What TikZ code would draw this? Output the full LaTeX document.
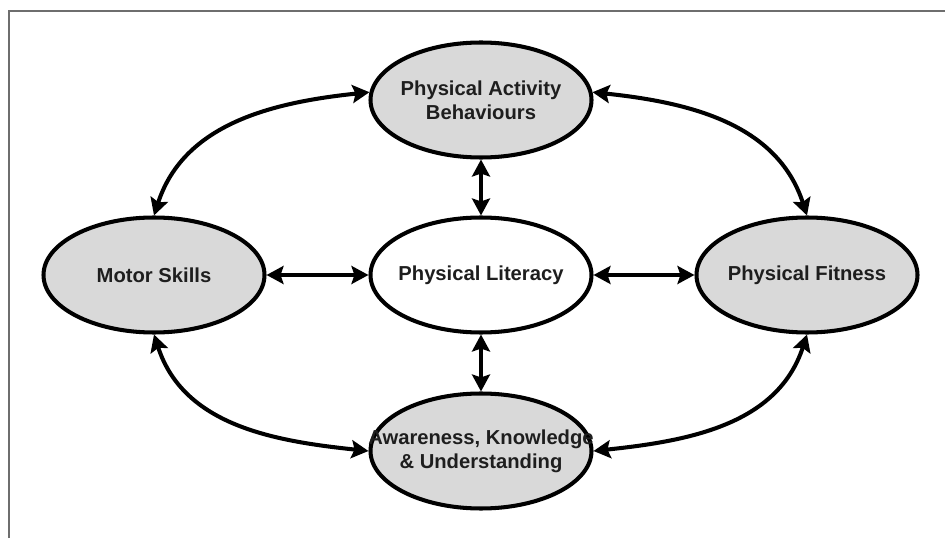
\documentclass[tikz,border=0pt]{standalone}
\usepackage{fontspec}
\setmainfont{Liberation Sans}
\usepackage{xcolor}
\usetikzlibrary{shapes.geometric}
\usetikzlibrary{arrows.meta}

\definecolor{ringfill}{RGB}{217,217,217}
\definecolor{framegray}{RGB}{110,110,110}
\definecolor{inkdark}{RGB}{30,30,30}

\tikzset{
  ring/.style={ellipse,draw,line width=2.3pt,fill=ringfill,
    minimum width=4.42cm,minimum height=2.3cm,inner sep=0pt},
  core/.style={ring,fill=white},
  txt/.style={align=center,text=inkdark,
    font=\fontsize{11.5}{13.8}\selectfont\bfseries},
  link/.style={line width=2.3pt,
    {Stealth[length=3.4mm,width=3.6mm,inset=0.6mm]}-{Stealth[length=3.4mm,width=3.6mm,inset=0.6mm]}},
  frame/.style={framegray,line width=0.9pt}
}

\begin{document}
\begin{tikzpicture}
  \useasboundingbox (0,0) rectangle (18.9,10.76);
  \draw[frame] (0.18,0) -- (0.18,10.54) -- (18.9,10.54);

  \node[core] (pl) at (9.62,5.26) {};
  \node[ring] (pab) at (9.62,8.76) {};
  \node[ring] (ms) at (3.08,5.26) {};
  \node[ring] (pf) at (16.14,5.26) {};
  \node[ring] (aku) at (9.62,1.74) {};

  \node[txt] (plt) at (pl) {Physical Literacy};
  \node[txt] (pabt) at (pab) {Physical Activity\\Behaviours};
  \node[txt] (mst) at (ms) {Motor Skills};
  \node[txt] (pft) at (pf) {Physical Fitness};
  \node[txt] (akut) at (aku) {Awareness, Knowledge\\\& Understanding};

  \draw[link] (ms) -- (pl);
  \draw[link] (pl) -- (pf);
  \draw[link] (pab) -- (pl);
  \draw[link] (pl) -- (aku);

  \draw[link] (ms.north) to[out=72,in=186] (pab.176);
  \draw[link] (ms.south) to[out=-72,in=174] (aku.west);
  \draw[link] (pab.4) to[out=-6,in=108] (pf.north);
  \draw[link] (aku.east) to[out=6,in=-108] (pf.south);
\end{tikzpicture}
\end{document}
